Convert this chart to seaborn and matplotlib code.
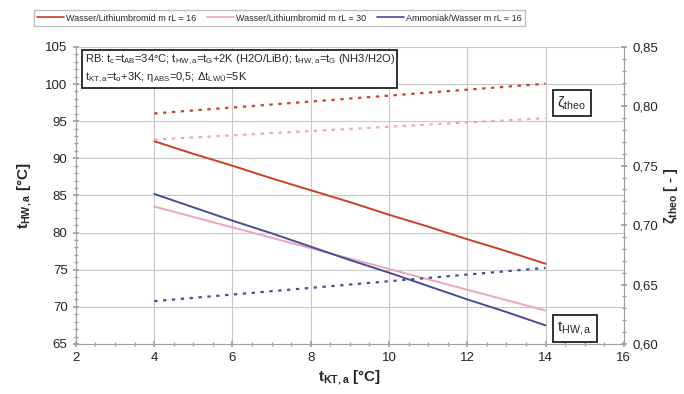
import numpy as np
import pandas as pd
import matplotlib
matplotlib.use("Agg")
import matplotlib.pyplot as plt
import seaborn as sns
from matplotlib.ticker import MultipleLocator, FuncFormatter

sns.set_theme(style="white")
plt.rcParams['font.family'] = ['Liberation Sans', 'DejaVu Sans']
plt.rcParams['mathtext.fontset'] = 'custom'
plt.rcParams['mathtext.rm'] = 'Liberation Sans'
plt.rcParams['mathtext.it'] = 'Liberation Sans'
plt.rcParams['mathtext.bf'] = 'Liberation Sans:bold'

t_kt = [4, 5, 6, 7, 8, 9, 10, 11, 12, 13, 14]
series = ["Wasser/Lithiumbromid m rL = 16", "Wasser/Lithiumbromid m rL = 30", "Ammoniak/Wasser m rL = 16"]
t_hw_libr16 = [92.3, 90.6, 89.0, 87.3, 85.7, 84.1, 82.4, 80.8, 79.1, 77.5, 75.8]
t_hw_libr30 = [83.5, 82.1, 80.7, 79.3, 77.9, 76.5, 75.1, 73.7, 72.3, 70.9, 69.5]
t_hw_nh3 = [85.2, 83.4, 81.6, 79.9, 78.1, 76.3, 74.6, 72.8, 71.0, 69.3, 67.5]
zeta_libr16 = [0.794, 0.7965, 0.799, 0.8015, 0.804, 0.8065, 0.809, 0.8115, 0.814, 0.8165, 0.819]
zeta_libr30 = [0.772, 0.7738, 0.7756, 0.7774, 0.7792, 0.781, 0.7828, 0.7846, 0.7864, 0.7882, 0.790]
zeta_nh3 = [0.636, 0.6388, 0.6416, 0.6444, 0.6472, 0.650, 0.6528, 0.6556, 0.6584, 0.6612, 0.664]

colors = {series[0]: "#c8402a", series[1]: "#eaa6bd", series[2]: "#4b4a9c"}

df_t = pd.DataFrame({
    "x": t_kt * 3,
    "y": t_hw_libr16 + t_hw_libr30 + t_hw_nh3,
    "s": [series[0]] * 11 + [series[1]] * 11 + [series[2]] * 11,
})
df_z = pd.DataFrame({
    "x": t_kt * 3,
    "y": zeta_libr16 + zeta_libr30 + zeta_nh3,
    "s": [series[0]] * 11 + [series[1]] * 11 + [series[2]] * 11,
})

fig = plt.figure(figsize=(6.84, 3.94), dpi=100)
ax = fig.add_axes([0.111, 0.127, 0.801, 0.754])
ax2 = ax.twinx()

sns.lineplot(data=df_t, x="x", y="y", hue="s", palette=colors, ax=ax, lw=1.4, legend=False)
sns.lineplot(data=df_z, x="x", y="y", hue="s", palette=colors, ax=ax2, lw=1.6,
             legend=False, linestyle=(0, (1.5, 2.5)))

ax.set_xlim(2, 16)
ax.set_ylim(65, 105)
ax2.set_ylim(0.60, 0.85)
ax.xaxis.set_major_locator(MultipleLocator(2))
ax.xaxis.set_minor_locator(MultipleLocator(0.5))
ax.yaxis.set_major_locator(MultipleLocator(5))
ax.yaxis.set_minor_locator(MultipleLocator(1))
ax2.yaxis.set_major_locator(MultipleLocator(0.05))
ax2.yaxis.set_minor_locator(MultipleLocator(0.01))
ax2.yaxis.set_major_formatter(FuncFormatter(lambda v, p: f"{v:.2f}".replace(".", ",")))

ax.grid(True, which="major", color="#c8c8c8", lw=0.8)
for a in (ax, ax2):
    for sp in a.spines.values():
        sp.set_visible(False)
ax.spines["left"].set_visible(True)
ax.spines["bottom"].set_visible(True)
ax2.spines["right"].set_visible(True)
for sp in (ax.spines["left"], ax.spines["bottom"], ax2.spines["right"]):
    sp.set_color("#a0a0a0")
    sp.set_linewidth(0.8)

ax.tick_params(axis="both", which="both", direction="inout", color="#a0a0a0", labelsize=9.5, labelcolor="#222222")
ax.tick_params(which="major", length=5, bottom=True, left=True)
ax.tick_params(which="minor", length=3, bottom=True, left=True)
ax2.tick_params(axis="y", which="both", direction="inout", color="#a0a0a0", labelsize=9.5, labelcolor="#222222", right=True)
ax2.tick_params(which="major", length=5)
ax2.tick_params(which="minor", length=3)

ax.set_xlabel(r"$\mathbf{t_{KT,a}}$ [°C]", fontsize=11, fontweight="bold", labelpad=3)
ax.set_ylabel(r"$\mathbf{t_{HW,a}}$ [°C]", fontsize=11, fontweight="bold", labelpad=8)
ax2.set_ylabel(r"$\mathbf{\zeta_{theo}}$ [ - ]", fontsize=10.5, fontweight="bold", labelpad=3)

ax.text(2.22, 104.2,
        "RB: $\\mathregular{t_c}$=$\\mathregular{t_{AB}}$=34°C; $\\mathregular{t_{HW,a}}$=$\\mathregular{t_G}$+2K (H2O/LiBr); $\\mathregular{t_{HW,a}}$=$\\mathregular{t_G}$ (NH3/H2O)\n"
        "$\\mathregular{t_{KT,a}}$=$\\mathregular{t_o}$+3K; $\\mathregular{\\eta_{ABS}}$=0,5; $\\mathregular{\\Delta t_{LWÜ}}$=5K",
        fontsize=8, va="top", ha="left", linespacing=1.35, zorder=5,
        bbox=dict(boxstyle="square,pad=0.25", fc="white", ec="#222222", lw=1.3))
ax.text(14.3, 97.5, r"$\mathregular{\zeta_{theo}}$", fontsize=11, va="center", ha="left", zorder=5,
        bbox=dict(boxstyle="square,pad=0.3", fc="white", ec="#222222", lw=1.3))
ax.text(14.3, 67.1, r"$\mathregular{t_{HW,a}}$", fontsize=11, va="center", ha="left", zorder=5,
        bbox=dict(boxstyle="square,pad=0.3", fc="white", ec="#222222", lw=1.3))

handles = [plt.Line2D([], [], color=colors[s], lw=1.2) for s in series]
fig.legend(handles, series, loc="upper left", bbox_to_anchor=(0.043, 0.985), ncol=3,
           fontsize=6.5, frameon=True, fancybox=False, edgecolor="#b0b0b0",
           handlelength=3.0, handletextpad=0.2, columnspacing=1.2, borderpad=0.35)

fig.savefig("out.png", dpi=100)
